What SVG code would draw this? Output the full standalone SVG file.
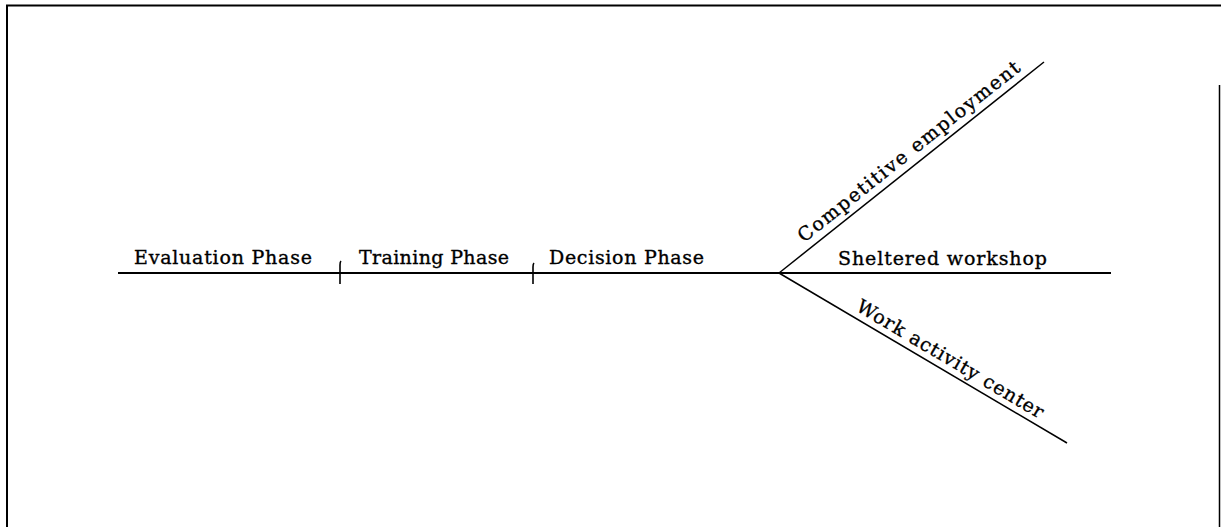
<svg xmlns="http://www.w3.org/2000/svg" width="1221" height="527" viewBox="0 0 1221 527">
<style>
.lbl{font-family:"DejaVu Serif","Liberation Serif",serif;font-size:19px;fill:#000;stroke:#000;stroke-width:0.35;}
.ln{stroke:#000;fill:none;stroke-linecap:butt;}
</style>
<rect x="0" y="0" width="1221" height="527" fill="#fff"/>
<g id="frame">
<path class="ln" d="M7,527 V5.5 H1221" stroke-width="2"/>
<path class="ln" d="M1219.5,85 V527" stroke-width="1.5" stroke="#555"/>
</g>
<g id="connectors">
<line class="ln" x1="118" y1="273" x2="1111" y2="273" stroke-width="2"/>
<path class="ln" d="M340,284 V265 q0,-3 1,-4" stroke-width="1.6"/>
<path class="ln" d="M533,284 V267 q0,-3 1,-4" stroke-width="1.6"/>
<line class="ln" x1="779" y1="273" x2="1044" y2="62" stroke-width="1.5"/>
<line class="ln" x1="779" y1="273" x2="1067" y2="443" stroke-width="1.5"/>
</g>
<g id="evaluation"><text class="lbl" x="134" y="264" textLength="178" lengthAdjust="spacing">Evaluation Phase</text></g>
<g id="training"><text class="lbl" x="359" y="264" textLength="150" lengthAdjust="spacing">Training Phase</text></g>
<g id="decision"><text class="lbl" x="549" y="264" textLength="155" lengthAdjust="spacing">Decision Phase</text></g>
<g id="sheltered"><text class="lbl" x="838" y="265" textLength="209" lengthAdjust="spacing">Sheltered workshop</text></g>
<g id="competitive"><text class="lbl" transform="translate(804,243) rotate(-38.5)" textLength="278" lengthAdjust="spacing">Competitive employment</text></g>
<g id="workactivity"><text class="lbl" transform="translate(855,310) rotate(30.6)" textLength="214" lengthAdjust="spacing">Work activity center</text></g>
</svg>
